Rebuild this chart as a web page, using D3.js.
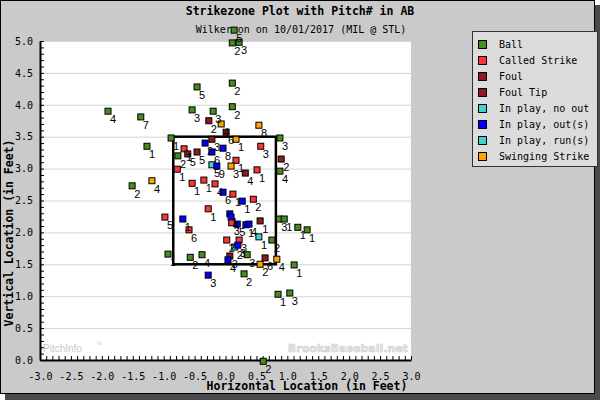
<!DOCTYPE html>
<html><head><meta charset="utf-8">
<script src="https://cdn.jsdelivr.net/npm/d3@7"></script>
<style>body{margin:0;background:#fff}svg{display:block}</style>
</head><body><svg id="c" width="600" height="400"></svg>
<script>
// ---- data ----
const typeCodes  = ["B","C","F","T","N","O","R","S"];
const typeNames  = ["Ball","Called Strike","Foul","Foul Tip","In play, no out","In play, out(s)","In play, run(s)","Swinging Strike"];
const typeColors = ["#478c1e","#ff3535","#8c1c1c","#8c1c1c","#45d2cf","#0000ff","#45d2cf","#ffa500"];

const pitchX = [0.14,0.11,0.22,-0.46,0.11,-1.90,-1.37,-0.54,-0.20,0.11,-0.27,-0.07,0.54,0.01,0.17,-0.88,-1.27,0.88,0.57,0.90,0.88,0.51,0.32,-0.33,-0.22,-0.04,-0.22,-0.67,-0.61,-0.46,-0.77,0.17,-0.22,-0.14,0.09,-0.78,-0.54,-0.35,-0.17,-0.04,0.12,0.27,0.45,-0.28,0.07,0.09,0.10,0.19,0.33,0.38,0.56,0.54,0.75,0.87,0.95,1.17,1.32,-0.98,-0.69,-0.59,-1.51,-1.19,0.02,0.22,0.15,0.20,0.07,0.35,0.64,-0.93,-0.57,-0.38,0.04,0.56,0.83,1.11,-0.28,0.30,0.85,1.04,0.61];
const pitchZ = [5.17,4.97,4.98,4.28,4.34,3.90,3.81,3.92,3.90,3.97,3.75,3.70,3.68,3.57,3.46,3.48,3.35,3.48,3.35,3.15,2.96,2.98,2.93,3.40,3.46,3.32,3.26,3.31,3.23,3.26,3.20,3.13,3.06,3.04,3.04,2.99,2.77,2.82,2.76,2.63,2.60,2.49,2.52,2.37,2.29,2.24,2.15,2.13,2.12,2.13,2.18,1.93,1.88,2.21,2.21,2.08,2.04,2.24,2.21,2.04,2.73,2.81,1.88,1.88,1.77,1.80,1.63,1.65,1.60,1.66,1.61,1.65,1.57,1.50,1.58,1.49,1.33,1.35,1.03,1.05,-0.02];
const pitchType = ["B","B","B","B","B","B","B","B","B","B","F","S","S","T","S","B","B","B","C","F","B","C","F","O","F","O","O","C","F","F","B","C","N","O","S","C","C","C","C","O","C","O","C","C","O","O","C","O","O","O","F","N","B","B","B","B","B","C","O","C","B","S","C","C","N","O","F","B","F","B","B","B","O","S","S","B","O","B","B","B","B"];
const pitchNum = ["5","2","3","5","2","4","7","3","3","2","2","4","8","6","1","1","1","3","3","2","4","1","4","2","3","8","6","1","5","5","2","1","5","9","3","1","1","1","4","6","1","1","2","1","1","4","3","5","1","4","1","1","2","3","1","1","1","5","1","6","2","4","2","3","2","3","3","3","6","1","2","4","4","2","4","1","3","2","1","3","2"];

const xTicks = [-3.0,-2.5,-2.0,-1.5,-1.0,-0.5,0.0,0.5,1.0,1.5,2.0,2.5,3.0];
const yTicks = [0.0,0.5,1.0,1.5,2.0,2.5,3.0,3.5,4.0,4.5,5.0];
const zoneX = [-0.845, 0.815];
const zoneZ = [1.5, 3.5];

// ---- drawing ----
const svg = d3.select("#c");
const x = d3.scaleLinear().domain([-3,3]).range([40,411]);
const y = d3.scaleLinear().domain([0,5]).range([360,41]);
const mono = "'DejaVu Sans Mono', monospace";

svg.append("rect").attr("x",5).attr("y",5).attr("width",595).attr("height",395).attr("fill","#4a4a4a");
svg.append("rect").attr("x",0.5).attr("y",0.5).attr("width",594).attr("height",393).attr("fill","#cacaca").attr("stroke","#000");

// plot area
svg.append("rect").attr("x",x(-3)).attr("y",y(5)).attr("width",x(3)-x(-3)).attr("height",y(0)-y(5)).attr("fill","#fff");

// gridlines
svg.append("g").selectAll("line").data(yTicks.filter(d=>d>0)).join("line")
  .attr("x1",x(-3)).attr("x2",x(3)).attr("y1",d=>y(d)+0.5).attr("y2",d=>y(d)+0.5)
  .attr("stroke","#d6d6d6").attr("stroke-width",1);

// watermarks
svg.append("text").attr("x",43).attr("y",352).attr("font-family","'Liberation Sans', sans-serif")
  .attr("font-size",10).attr("fill","#c8c8c8").text("PitchInfo");
svg.append("text").attr("x",97).attr("y",345).attr("font-family","'Liberation Sans', sans-serif")
  .attr("font-size",6).attr("fill","#c8c8c8").text("fx");
svg.append("text").attr("x",408).attr("y",352).attr("text-anchor","end").attr("font-family","'DejaVu Sans', sans-serif")
  .attr("font-weight","bold").attr("font-size",11).attr("fill","#e6e6e6").attr("stroke","#cfcfcf").attr("stroke-width",0.6)
  .text("BrooksBaseball.net");

// axes
const minor = d3.range(-30,31).map(d=>d/10);
const minorY = d3.range(0,51).map(d=>d/10);
const ax = svg.append("g").attr("transform",`translate(0,${y(0)})`)
  .call(d3.axisBottom(x).tickValues(minor).tickSize(-4).tickSizeOuter(0).tickFormat(""));
ax.selectAll("line").attr("stroke","#000");
ax.select(".domain").attr("stroke","#000").attr("stroke-width",2);
const axl = svg.append("g").attr("transform",`translate(0,${y(0)})`)
  .call(d3.axisBottom(x).tickValues(xTicks).tickSize(0).tickPadding(13).tickFormat(d=>d.toFixed(1)));
axl.select(".domain").remove();
axl.selectAll("text").attr("font-family",mono).attr("font-size",10).attr("fill","#000");

const ay = svg.append("g").attr("transform",`translate(${x(-3)},0)`)
  .call(d3.axisLeft(y).tickValues(minorY).tickSize(-4).tickSizeOuter(0).tickFormat(""));
ay.selectAll("line").attr("stroke","#000");
ay.select(".domain").attr("stroke","#000").attr("stroke-width",2);
const ayl = svg.append("g").attr("transform",`translate(${x(-3)},0)`)
  .call(d3.axisLeft(y).tickValues(yTicks).tickSize(0).tickPadding(7).tickFormat(d=>d.toFixed(1)));
ayl.select(".domain").remove();
ayl.selectAll("text").attr("font-family",mono).attr("font-size",10).attr("fill","#000");

// titles
svg.append("text").attr("x",300).attr("y",15).attr("text-anchor","middle").attr("font-family",mono)
  .attr("font-weight","bold").attr("font-size",11.5).text("Strikezone Plot with Pitch# in AB");
svg.append("text").attr("x",301).attr("y",33).attr("text-anchor","middle").attr("font-family",mono)
  .attr("font-size",10).text("Wilkerson on 10/01/2017 (MIL @ STL)");
svg.append("text").attr("x",307).attr("y",390).attr("text-anchor","middle").attr("font-family",mono)
  .attr("font-weight","bold").attr("font-size",11.5).text("Horizontal Location (in Feet)");
svg.append("text").attr("transform","translate(13,233) rotate(-90)").attr("text-anchor","middle").attr("font-family",mono)
  .attr("font-weight","bold").attr("font-size",11.5).text("Vertical Location (in Feet)");

// strike zone
svg.append("rect").attr("x",x(zoneX[0])).attr("y",y(zoneZ[1])).attr("width",x(zoneX[1])-x(zoneX[0]))
  .attr("height",y(zoneZ[0])-y(zoneZ[1])).attr("fill","none").attr("stroke","#000").attr("stroke-width",2.5);

// points
const pts = pitchX.map((d,i)=>({x:d,z:pitchZ[i],t:typeCodes.indexOf(pitchType[i]),n:pitchNum[i]}));
const g = svg.append("g");
g.selectAll("rect").data(pts).join("rect")
  .attr("x",d=>x(d.x)-3).attr("y",d=>y(d.z)-3).attr("width",6).attr("height",6)
  .attr("fill",d=>typeColors[d.t]).attr("stroke","#000").attr("stroke-width",1);
g.selectAll("text").data(pts).join("text")
  .attr("x",d=>x(d.x)+2).attr("y",d=>y(d.z)+12).attr("font-family","'Liberation Sans', sans-serif")
  .attr("font-size",11).attr("fill","#000").text(d=>d.n);

// legend
const lg = svg.append("g");
lg.append("rect").attr("x",472.5).attr("y",31.5).attr("width",125).attr("height",135).attr("fill","#dcdcdc").attr("stroke","#333");
const li = lg.selectAll("g").data(typeNames).join("g").attr("transform",(d,i)=>`translate(0,${44+i*16})`);
li.append("rect").attr("x",478.5).attr("y",-3.5).attr("width",8).attr("height",8)
  .attr("fill",(d,i)=>typeColors[i]).attr("stroke","#000");
li.append("text").attr("x",499).attr("y",4).attr("font-family",mono).attr("font-size",10).text(d=>d);
</script></body></html>
